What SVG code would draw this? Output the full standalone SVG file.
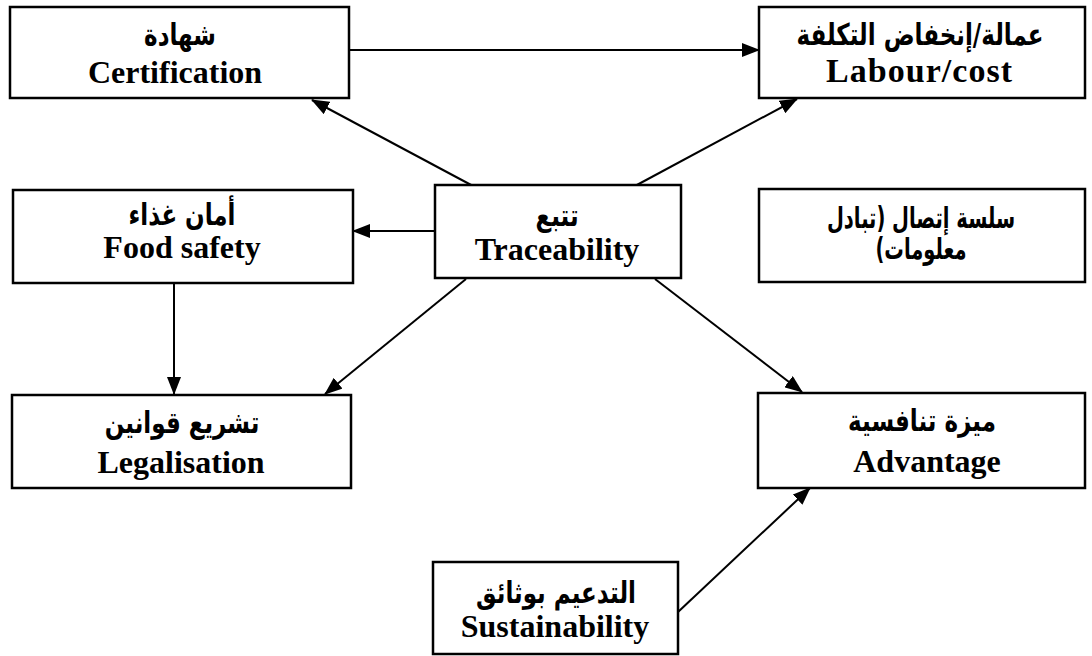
<svg xmlns="http://www.w3.org/2000/svg" width="1092" height="656" viewBox="0 0 1092 656">
<style>
.box{fill:#fff;stroke:#000;stroke-width:2.5}
.en{font-family:"Liberation Serif","Times New Roman",serif;font-weight:bold;font-size:32px;text-anchor:middle;fill:#000}
.ar{font-family:"DejaVu Sans","Noto Sans",sans-serif;font-weight:bold;font-size:23px;text-anchor:middle;fill:#000;direction:rtl;unicode-bidi:embed}
.arn{font-size:19.5px}
.ln{stroke:#000;stroke-width:2;fill:none;marker-end:url(#ah)}
</style>
<defs>
<marker id="ah" markerUnits="userSpaceOnUse" markerWidth="18" markerHeight="14" refX="17" refY="7" orient="auto">
<path d="M0,0 L18,7 L0,14 Z" fill="#000"/>
</marker>
</defs>
<g id="connectors">
<line class="ln" x1="349" y1="50" x2="759" y2="50"/>
<line class="ln" x1="473" y1="186" x2="312" y2="100"/>
<line class="ln" x1="635" y1="186" x2="797" y2="99"/>
<line class="ln" x1="435" y1="231" x2="353" y2="231"/>
<line class="ln" x1="174" y1="283" x2="174" y2="394"/>
<line class="ln" x1="466" y1="279" x2="325" y2="394"/>
<line class="ln" x1="655" y1="279" x2="802" y2="392"/>
<line class="ln" x1="678" y1="612" x2="810" y2="488"/>
</g>
<g id="certification">
<rect class="box" x="10" y="7" width="339" height="91"/>
<text class="ar" direction="rtl" transform="translate(180,45) scale(1,1.3)">شهادة</text>
<text class="en" x="175" y="83">Certification</text>
</g>
<g id="labour">
<rect class="box" x="759" y="7" width="326" height="91"/>
<text class="ar" direction="rtl" transform="translate(920,45) scale(1,1.3)">عمالة/إنخفاض التكلفة</text>
<text class="en" x="919" y="82" style="font-size:34px" textLength="186" lengthAdjust="spacing">Labour/cost</text>
</g>
<g id="foodsafety">
<rect class="box" x="13" y="190" width="340" height="93"/>
<text class="ar" direction="rtl" transform="translate(182,225) scale(1,1.3)">أمان غذاء</text>
<text class="en" x="182" y="258">Food safety</text>
</g>
<g id="traceability">
<rect class="box" x="435" y="185" width="246" height="93"/>
<text class="ar" direction="rtl" transform="translate(557,226) scale(1,1.3)">تتبع</text>
<text class="en" x="557" y="260">Traceability</text>
</g>
<g id="chain">
<rect class="box" x="759" y="189" width="326" height="93"/>
<text class="ar arn" direction="rtl" transform="translate(921,228) scale(1,1.5)">سلسة إتصال (تبادل</text>
<text class="ar arn" direction="rtl" transform="translate(921,259) scale(1,1.5)">معلومات)</text>
</g>
<g id="legalisation">
<rect class="box" x="12" y="395" width="339" height="93"/>
<text class="ar" direction="rtl" transform="translate(182,433) scale(1,1.3)">تشريع قوانين</text>
<text class="en" x="181" y="473">Legalisation</text>
</g>
<g id="advantage">
<rect class="box" x="758" y="393" width="327" height="95"/>
<text class="ar" direction="rtl" transform="translate(922,431) scale(1,1.3)">ميزة تنافسية</text>
<text class="en" x="927" y="472">Advantage</text>
</g>
<g id="sustainability">
<rect class="box" x="433" y="562" width="245" height="92"/>
<text class="ar" direction="rtl" transform="translate(556,603) scale(1,1.3)">التدعيم بوثائق</text>
<text class="en" x="555" y="637">Sustainability</text>
</g>
</svg>
